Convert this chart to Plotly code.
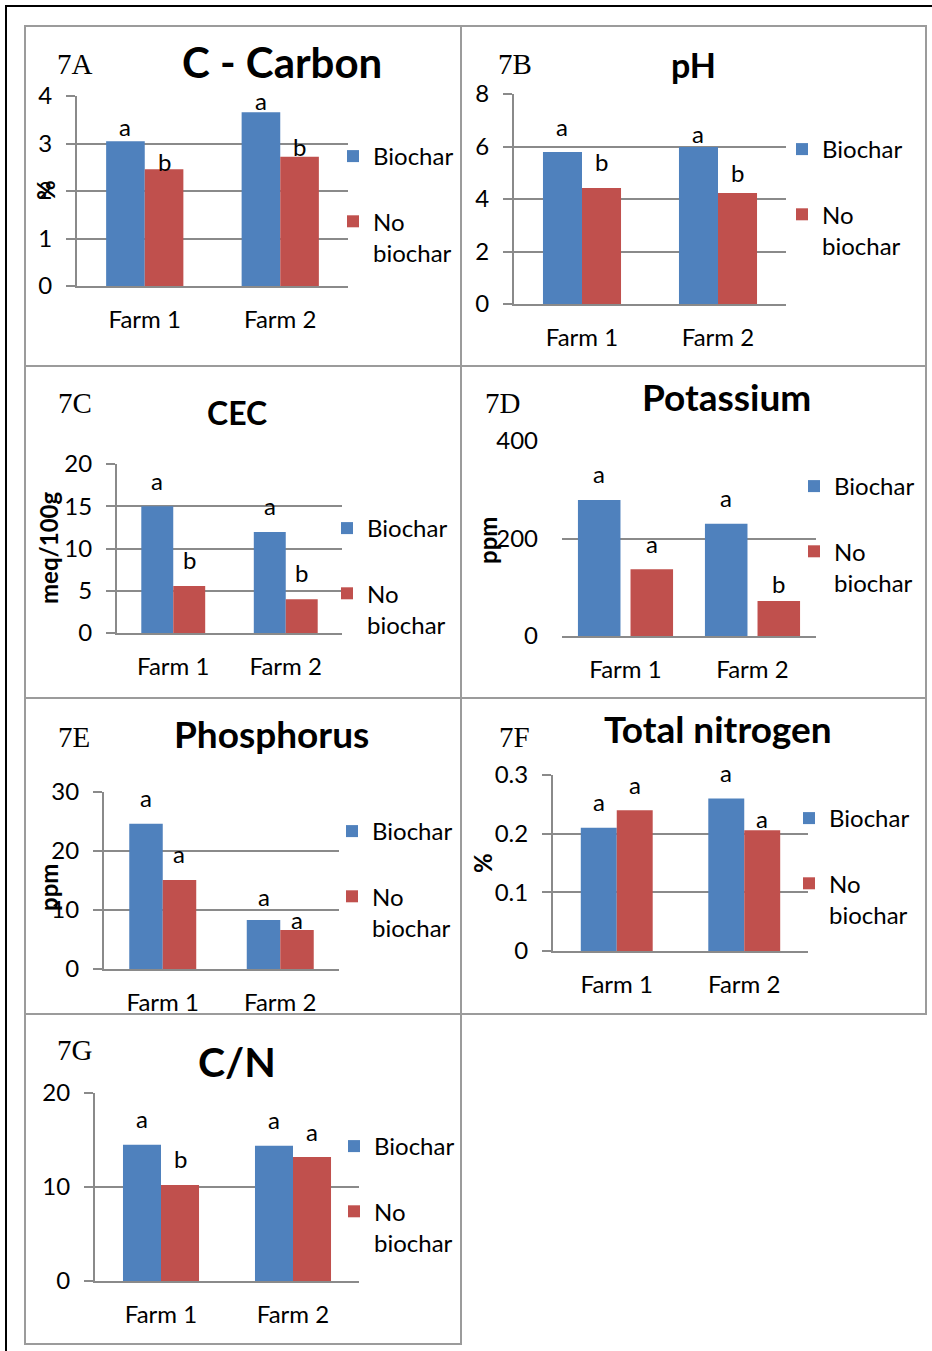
import plotly.graph_objects as go

W, H = 932, 1351

# ---- data -------------------------------------------------------------
farms = ["Farm 1", "Farm 2"]
series_names = ["Biochar", "No<br>biochar"]

carbon_biochar = [3.05, 3.66]
carbon_none = [2.46, 2.72]
carbon_letters = [["a", "a"], ["b", "b"]]

ph_biochar = [5.79, 5.98]
ph_none = [4.42, 4.23]
ph_letters = [["a", "a"], ["b", "b"]]

cec_biochar = [15.0, 11.95]
cec_none = [5.55, 4.0]
cec_letters = [["a", "a"], ["b", "b"]]

k_biochar = [279, 230]
k_none = [137, 72]
k_letters = [["a", "a"], ["a", "b"]]

p_biochar = [24.6, 8.3]
p_none = [15.1, 6.6]
p_letters = [["a", "a"], ["a", "a"]]

n_biochar = [0.21, 0.26]
n_none = [0.24, 0.206]
n_letters = [["a", "a"], ["a", "a"]]

cn_biochar = [14.5, 14.4]
cn_none = [10.2, 13.2]
cn_letters = [["a", "a"], ["b", "a"]]

titles = ["C - Carbon", "pH", "CEC", "Potassium", "Phosphorus", "Total nitrogen", "C/N"]
panel_tags = ["7A", "7B", "7C", "7D", "7E", "7F", "7G"]
y_titles = ["%", None, "meq/100g", "ppm", "ppm", "%", None]
y_max = [4, 8, 20, 400, 30, 0.3, 20]
y_step = [1, 2, 5, 200, 10, 0.1, 10]

# ---- styling ----------------------------------------------------------
BLUE = "#4F81BD"
RED = "#C0504D"
GRID = "#8A8A8A"
FRAME = "#9B9B9B"
FONT = "Lato"

def px_x(v):
    return v / W

def px_y(v):
    return 1 - v / H

# per panel: box, plot area (left, right, top, bottom in px), bar width,
# gap between paired bars, title/tag/y-title positions, legend position
panels = [
    dict(box=(25, 26, 461, 366), area=(77, 348, 96, 286), w=0.285, s=0.0,
         title=(282, 62, 42), tag=(75, 64), ytitle=(45, 190), axisline=True,
         std=9, legend=(333, 134), lifts=[[15, 12], [8, 10]]),
    dict(box=(461, 26, 926, 366), area=(514, 786, 94, 304), w=0.287, s=0.0,
         title=(693, 64, 34), tag=(515, 64), ytitle=None, axisline=True,
         std=9, legend=(782, 127), lifts=[[26, 14], [26, 20]]),
    dict(box=(25, 366, 461, 698), area=(117, 342, 464, 633), w=0.284, s=0.0,
         title=(237, 413, 32), tag=(75, 403), ytitle=(48, 548), axisline=True,
         std=9, legend=(327, 506), lifts=[[26, 27], [27, 27]]),
    dict(box=(461, 366, 926, 698), area=(562, 816, 441, 636), w=0.335, s=0.079,
         title=(726, 396, 37), tag=(502, 403), ytitle=(487, 540), axisline=False,
         std=23, legend=(794, 464), lifts=[[26, 26], [26, 17]]),
    dict(box=(25, 698, 461, 1014), area=(104, 339, 792, 969), w=0.285, s=0.0,
         title=(271, 733, 37), tag=(74, 737), ytitle=(48, 888), axisline=True,
         std=9, legend=(332, 809), lifts=[[26, 24], [26, 11]]),
    dict(box=(461, 698, 926, 1014), area=(553, 808, 775, 951), w=0.282, s=0.0,
         title=(718, 728, 37), tag=(514, 737), ytitle=(482, 863), axisline=True,
         std=9, legend=(789, 796), lifts=[[26, 26], [26, 12]]),
    dict(box=(25, 1014, 461, 1344), area=(95, 359, 1093, 1281), w=0.288, s=0.0,
         title=(237, 1061, 41), tag=(75, 1050), ytitle=None, axisline=True,
         std=9, legend=(334, 1124), lifts=[[26, 26], [27, 25]]),
]

series = [
    (carbon_biochar, carbon_none, carbon_letters),
    (ph_biochar, ph_none, ph_letters),
    (cec_biochar, cec_none, cec_letters),
    (k_biochar, k_none, k_letters),
    (p_biochar, p_none, p_letters),
    (n_biochar, n_none, n_letters),
    (cn_biochar, cn_none, cn_letters),
]

fig = go.Figure()
layout = dict(
    width=W, height=H,
    margin=dict(l=0, r=0, t=0, b=0, pad=0, autoexpand=False),
    paper_bgcolor="white", plot_bgcolor="white",
    font=dict(family=FONT, color="black"),
    barmode="overlay",
    showlegend=True,
)
annotations = []
shapes = []

# outer frame
shapes.append(dict(type="rect", xref="paper", yref="paper",
                   x0=px_x(6), x1=px_x(940), y0=px_y(6), y1=px_y(1360),
                   line=dict(color="black", width=2)))

for k, (p, (vb, vn, letters)) in enumerate(zip(panels, series)):
    n = k + 1
    xa = f"x{n}" if n > 1 else "x"
    ya = f"y{n}" if n > 1 else "y"
    lg = f"legend{n}" if n > 1 else "legend"
    left, right, top, bottom = p["area"]
    w, s = p["w"], p["s"]

    # panel frame
    x0, y0, x1, y1 = p["box"]
    shapes.append(dict(type="rect", xref="paper", yref="paper",
                       x0=px_x(x0), x1=px_x(x1), y0=px_y(y1), y1=px_y(y0),
                       line=dict(color=FRAME, width=2), layer="below"))

    offsets = [-(w + s / 2), s / 2]
    colors = [BLUE, RED]
    for j, vals in enumerate((vb, vn)):
        fig.add_trace(go.Bar(
            x=farms, y=vals, name=series_names[j],
            marker=dict(color=colors[j], line=dict(width=0)),
            width=w, offset=offsets[j],
            xaxis=xa, yaxis=ya, legend=lg, legendgroup=f"g{n}_{j}",
            hoverinfo="skip",
        ))
        # significance letters above each bar
        for i, v in enumerate(vals):
            annotations.append(dict(
                xref=xa, yref=ya, x=i + offsets[j] + w / 2, y=v,
                text=letters[j][i], showarrow=False,
                yanchor="middle", yshift=p["lifts"][j][i],
                font=dict(size=24, family=FONT, color="black"),
            ))

    axis_key = "xaxis" if n == 1 else f"xaxis{n}"
    yaxis_key = "yaxis" if n == 1 else f"yaxis{n}"
    layout[axis_key] = dict(
        domain=[px_x(left), px_x(right)], anchor=ya,
        type="category", range=[-0.5, 1.5],
        showline=True, linecolor=GRID, linewidth=2,
        ticks="", showgrid=False, zeroline=False,
        tickfont=dict(size=24, family=FONT),
        ticklabelstandoff=11, fixedrange=True,
    )
    layout[yaxis_key] = dict(
        domain=[px_y(bottom), px_y(top)], anchor=xa,
        range=[0, y_max[k]], dtick=y_step[k], tick0=0,
        showgrid=True, gridcolor=GRID, gridwidth=2,
        showline=p["axisline"], linecolor=GRID, linewidth=2,
        ticks="outside" if p["axisline"] else "", ticklen=9,
        tickcolor=GRID, tickwidth=2, zeroline=False,
        tickfont=dict(size=24, family=FONT),
        ticklabelstandoff=p["std"], fixedrange=True,
    )
    lx, ly = p["legend"]
    layout[lg] = dict(
        x=px_x(lx), y=px_y(ly), xanchor="left", yanchor="top",
        xref="paper", yref="paper",
        bgcolor="rgba(0,0,0,0)", borderwidth=0,
        font=dict(size=24, family=FONT, color="black"),
        tracegroupgap=31, valign="top", traceorder="grouped",
    )

    tx, ty, tsize = p["title"]
    annotations.append(dict(
        xref="paper", yref="paper", x=px_x(tx), y=px_y(ty),
        text=titles[k], showarrow=False, xanchor="center", yanchor="middle",
        font=dict(size=tsize, family=FONT, weight="bold", color="black"),
    ))
    gx, gy = p["tag"]
    annotations.append(dict(
        xref="paper", yref="paper", x=px_x(gx), y=px_y(gy),
        text=panel_tags[k], showarrow=False, xanchor="center", yanchor="middle",
        font=dict(size=29, family="Liberation Serif", color="black"),
    ))
    if p["ytitle"] and y_titles[k]:
        ax, ay = p["ytitle"]
        annotations.append(dict(
            xref="paper", yref="paper", x=px_x(ax), y=px_y(ay),
            text=y_titles[k], showarrow=False, textangle=-90,
            xanchor="center", yanchor="middle",
            font=dict(size=24, family=FONT, weight="bold", color="black"),
        ))

layout["annotations"] = annotations
layout["shapes"] = shapes
fig.update_layout(**layout)
fig.write_html("out.html")
